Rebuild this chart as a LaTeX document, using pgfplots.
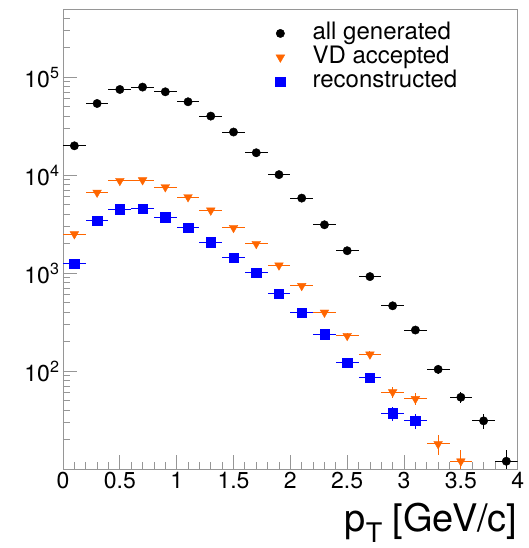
\documentclass[border=0pt]{standalone}
\usepackage{fontspec}
\setmainfont{TeX Gyre Heros}
\usepackage{pgfplots}
\pgfplotsset{compat=1.18}
\definecolor{rootorange}{RGB}{255,102,0}
\definecolor{framegray}{RGB}{150,150,150}

\pgfplotstableread{
x y ex ey
0.1 19900 0.1 141
0.3 53800 0.1 232
0.5 74800 0.1 273
0.7 79100 0.1 281
0.9 70800 0.1 266
1.1 56000 0.1 237
1.3 40000 0.1 200
1.5 27500 0.1 166
1.7 16900 0.1 130
1.9 10100 0.1 100
2.1 5820 0.1 76
2.3 3110 0.1 56
2.5 1690 0.1 41
2.7 920 0.1 30
2.9 463 0.1 21.5
3.1 262 0.1 16.2
3.3 104 0.1 10.2
3.5 54 0.1 7.3
3.7 31 0.1 5.6
3.9 12 0.1 3.5
}\allgen

\pgfplotstableread{
x y ex ey
0.1 2500 0.1 50
0.3 6640 0.1 81
0.5 8750 0.1 94
0.7 8890 0.1 94
0.9 7550 0.1 87
1.1 5970 0.1 77
1.3 4360 0.1 66
1.5 2900 0.1 54
1.7 1990 0.1 45
1.9 1200 0.1 35
2.1 741 0.1 27
2.3 396 0.1 20
2.5 229 0.1 15
2.7 148 0.1 12.2
2.9 61 0.1 7.8
3.1 52 0.1 7.2
3.3 18 0.1 4.2
3.5 12 0.1 3.5
}\vdacc

\pgfplotstableread{
x y ex ey
0.1 1245 0.1 35
0.3 3400 0.1 58
0.5 4500 0.1 67
0.7 4530 0.1 67
0.9 3720 0.1 61
1.1 2900 0.1 54
1.3 2070 0.1 45
1.5 1440 0.1 38
1.7 1013 0.1 32
1.9 619 0.1 25
2.1 396 0.1 20
2.3 238 0.1 15.4
2.5 122 0.1 11
2.7 86 0.1 9.3
2.9 37 0.1 6.1
3.1 31 0.1 5.6
}\reco

\begin{document}
\begin{tikzpicture}
\useasboundingbox (-63pt,-79pt) rectangle (466pt,469pt);
\begin{axis}[
  at={(0,0)}, anchor=south west,
  scale only axis, width=454.7pt, height=459.5pt,
  ymode=log, xmin=0, xmax=4, ymin=10, ymax=4.9e5,
  axis line style={framegray, line width=0.8pt},
  tick style={framegray, line width=0.8pt},
  tick pos=left, tick align=inside,
  major tick length=14pt, minor tick length=7pt,
  xtick={0,0.5,1,1.5,2,2.5,3,3.5,4},
  xticklabels={0,0.5,1,1.5,2,2.5,3,3.5,4},
  minor x tick num=4,
  ytick={100,1000,10000,100000},
  yticklabels={10\textsuperscript{2},10\textsuperscript{3},10\textsuperscript{4},10\textsuperscript{5}},
  minor ytick={20,30,40,50,60,70,80,90,200,300,400,500,600,700,800,900,2000,3000,4000,5000,6000,7000,8000,9000,20000,30000,40000,50000,60000,70000,80000,90000,200000,300000,400000},
  ticklabel style={font=\fontsize{23}{23}\selectfont},
  xlabel={p\raisebox{-0.3em}{\fontsize{27}{27}\selectfont T} [GeV/c]},
  xlabel style={at={(axis description cs:1,0)}, anchor=base east, yshift=-62.2pt, inner sep=0pt, font=\fontsize{38}{38}\selectfont},
  legend style={draw=none, fill=none, at={(0.46,0.974)}, anchor=north west, inner sep=0pt, outer sep=0pt,
    font=\fontsize{24}{24}\selectfont, row sep=0pt,
    nodes={inner sep=1pt, text height=17pt, text depth=5pt}},
  legend cell align=left,
  legend image code/.code={\draw[#1] plot coordinates {(0pt,0pt)}; \path (-8pt,0pt) (31pt,0pt);},
  error bars/error bar style={line width=1pt},
  error bars/error mark=none,
]
\addplot[black, only marks, mark=*, mark size=4.2pt, mark options={fill=black},
  error bars/.cd, x dir=both, x explicit, y dir=both, y explicit]
  table[x=x, y=y, x error=ex, y error=ey] {\allgen};
\addlegendentry{all generated}
\addplot[rootorange, only marks, mark=triangle*, mark size=5pt, mark options={rotate=180, fill=rootorange},
  error bars/.cd, x dir=both, x explicit, y dir=both, y explicit]
  table[x=x, y=y, x error=ex, y error=ey] {\vdacc};
\addlegendentry{VD accepted}
\addplot[blue, only marks, mark=square*, mark size=4.7pt, mark options={fill=blue},
  error bars/.cd, x dir=both, x explicit, y dir=both, y explicit]
  table[x=x, y=y, x error=ex, y error=ey] {\reco};
\addlegendentry{reconstructed}
\end{axis}
\end{tikzpicture}
\end{document}
